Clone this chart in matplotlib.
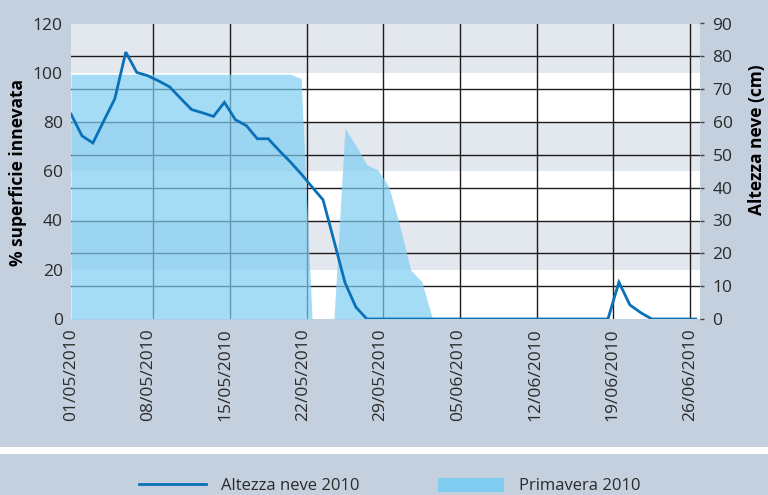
import matplotlib
matplotlib.use("Agg")
import matplotlib.pyplot as plt
import matplotlib.transforms as mtransforms
from matplotlib.lines import Line2D
from matplotlib.patches import Patch, Rectangle
import numpy as np
import pandas as pd

plt.rcParams['font.family'] = ['Open Sans', 'DejaVu Sans']

# daily values, 01/05/2010 -> 27/06/2010
days = pd.date_range("2010-05-01", "2010-06-27", freq="D")

# snow depth (cm), right axis
snow_cm = [62.4, 55.8, 53.6, 60.4, 67.1, 81.3, 75.1, 74.1, 72.5, 70.7,
           67.2, 63.8, 62.8, 61.7, 66.0, 60.7, 58.9, 54.9, 54.9, 51.3,
           47.9, 44.2, 40.2, 36.3, 23.8, 11.1, 3.6, 0.0] + [0.0] * 22 + \
          [11.2, 4.3, 1.9] + [0.0] * 5

# snow-covered area (%), left axis
cover_pct = [99.4] * 21 + [97.7, 0.0, 0.0, 0.0, 77.6, 70.4, 62.6, 60.6,
                           53.8, 37.8, 19.9, 15.2] + [0.0] * 25

tick_dates = ["01/05/2010", "08/05/2010", "15/05/2010", "22/05/2010",
              "29/05/2010", "05/06/2010", "12/06/2010", "19/06/2010",
              "26/06/2010"]

BG = "#c5d0de"
BAND = "#e3e8ef"
GRID = "#1c1c1c"
LINE = "#0a71b9"
AREA = "#7fcef2"
TXT = "#2a2a2a"

fig = plt.figure(figsize=(7.68, 4.95), dpi=100, facecolor=BG)
ax = fig.add_axes([71 / 768, 1 - 319 / 495, 629 / 768, 295.5 / 495])
ax2 = ax.twinx()

start = days[0]
ax.set_xlim(start, start + pd.Timedelta(days=57.4))
ax.set_ylim(0, 120)
ax2.set_ylim(0, 90)

# background bands
ax.set_facecolor("white")
for lo in (20, 60, 100):
    ax.axhspan(lo, lo + 20, color=BAND, lw=0, zorder=0)

# grid: horizontal on cm ticks, vertical between weekly categories
trans = mtransforms.blended_transform_factory(ax.transAxes, ax2.transData)
for v in range(10, 90, 10):
    ax.add_line(Line2D([0, 1], [v, v], transform=trans, color=GRID, lw=1.0, zorder=1))
for j in range(1, 9):
    ax.axvline(start + pd.Timedelta(days=7 * j, hours=12), color=GRID, lw=1.0, zorder=1)

ax.fill_between(days, cover_pct, color=AREA, alpha=0.7, lw=0, zorder=2)
ax2.plot(days, snow_cm, color=LINE, lw=2.0, zorder=3, solid_joinstyle="miter")

for a in (ax, ax2):
    for s in a.spines.values():
        s.set_visible(False)

pos = [start + pd.Timedelta(days=d) for d in np.linspace(0, 56.5, 9)]
ax.set_xticks(pos)
ax.set_xticklabels(tick_dates, rotation=90, fontsize=12.5, color=TXT)
ax.tick_params(axis="x", length=0, pad=7)
ax.set_yticks(range(0, 121, 20))
ax.tick_params(axis="y", length=0, pad=6, labelsize=12.5, labelcolor=TXT)
ax2.set_yticks(range(0, 91, 10))
ax2.tick_params(axis="y", length=3, width=1, color="#444444", pad=6,
                labelsize=12.5, labelcolor=TXT)

fig.text(18 / 768, 1 - 172.5 / 495, "% superficie innevata", rotation=90,
         ha="center", va="center", fontsize=12.5, fontweight="bold", color="black")
fig.text(757 / 768, 1 - 140 / 495, "Altezza neve (cm)", rotation=90,
         ha="center", va="center", fontsize=12.5, fontweight="bold", color="black")

# white separator above legend
fig.add_artist(Rectangle((0, 1 - 454 / 495), 1, 7 / 495, transform=fig.transFigure,
                         color="white", lw=0))

handles = [Line2D([], [], color=LINE, lw=2.0), Patch(facecolor=AREA, lw=0)]
fig.legend(handles, ["Altezza neve 2010", "Primavera 2010"], ncol=2, frameon=False,
           loc="center", bbox_to_anchor=(0.508, 9 / 495), fontsize=12,
           handlelength=4.0, handleheight=0.9, handletextpad=0.9,
           columnspacing=4.7, labelcolor=TXT, borderpad=0.2)

fig.savefig("out.png", dpi=100, facecolor=BG)
